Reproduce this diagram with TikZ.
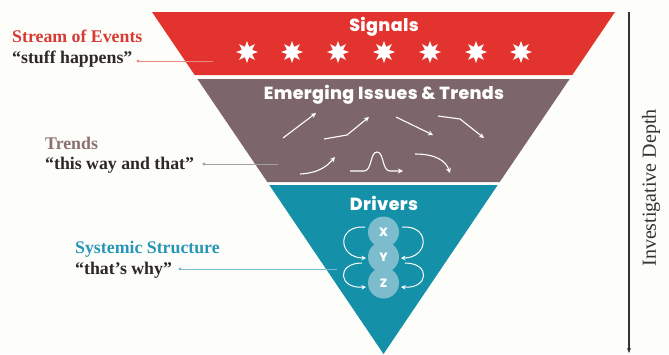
\documentclass[tikz,border=0pt]{standalone}
\usepackage{fontspec}
\setmainfont{Liberation Serif}
\newfontfamily\titlefont{Poppins}[BoldFont={Poppins ExtraBold},LetterSpace=2]
\usetikzlibrary{shapes.geometric,arrows.meta}
\definecolor{bg}{HTML}{FDFDF9}
\definecolor{bandred}{HTML}{E2332F}
\definecolor{bandgray}{HTML}{7D6669}
\definecolor{bandteal}{HTML}{1590A9}
\definecolor{circfill}{HTML}{7DBCCD}
\definecolor{lblred}{HTML}{D83A34}
\definecolor{lblgray}{HTML}{8C7073}
\definecolor{lblteal}{HTML}{2896B9}
\definecolor{quote}{HTML}{2D2828}
\definecolor{linered}{HTML}{E88C82}
\definecolor{linegray}{HTML}{A0A0A0}
\definecolor{lineteal}{HTML}{78BED2}
\definecolor{axis}{HTML}{333333}
\tikzset{
  bandtitle/.style={text=white,font=\titlefont\bfseries\fontsize{17.5}{19}\selectfont,inner sep=0},
  sparkle/.style={star,star points=8,star point ratio=2,fill=white,minimum size=22pt,inner sep=0},
  trendarrow/.style={white,line width=1.1pt,-{Stealth[length=5pt,width=5pt]}},
  loopar/.style={white,line width=1pt,-{Stealth[length=4.5pt,width=4.5pt]}},
  xyz/.style={circle,fill=circfill,minimum size=31pt,inner sep=0,text=white,font=\titlefont\bfseries\fontsize{12}{13}\selectfont},
  lblhead/.style={anchor=base west,inner sep=0,font=\bfseries\fontsize{17.8}{20}\selectfont},
  lblquote/.style={anchor=base west,inner sep=0,text=quote,font=\bfseries\fontsize{17.8}{20}\selectfont},
  leader/.style={line width=0.9pt},
}
\begin{document}
\begin{tikzpicture}[x=1pt,y=-1pt]
\useasboundingbox (0,0) rectangle (669,354);
\fill[bg] (0,0) rectangle (669,354);
% bands
\fill[bandred] (152,12) -- (615,12) -- (572.3,75) -- (194.7,75) -- cycle;
\fill[bandgray] (197.4,79) -- (569.6,79) -- (499.7,182) -- (267.3,182) -- cycle;
\fill[bandteal] (269.3,185) -- (497.7,185) -- (383.5,354) -- cycle;
% titles
\node[bandtitle] (tsig) at (384,27) {Signals};
\node[bandtitle] (temg) at (384,95) {Emerging Issues \& Trends};
\node[bandtitle] (tdrv) at (384,203) {Drivers};
% stars
\foreach \i/\x in {1/247,2/292,3/338,4/384,5/430,6/476,7/521}
  \node[sparkle] (s\i) at (\x,52) {};
% trend arrows
\coordinate (a1s) at (283,138); \coordinate (a1e) at (316,113);
\draw[trendarrow] (a1s) -- (a1e);
\coordinate (a2s) at (324,139); \coordinate (a2m) at (347,135); \coordinate (a2e) at (369,117);
\draw[trendarrow] (a2s) -- (a2m) -- (a2e);
\coordinate (a3s) at (396,117); \coordinate (a3e) at (433,135);
\draw[trendarrow] (a3s) -- (a3e);
\coordinate (a4s) at (438,116); \coordinate (a4m) at (460,119); \coordinate (a4e) at (484,138);
\draw[trendarrow] (a4s) -- (a4m) -- (a4e);
\coordinate (a5s) at (300,174); \coordinate (a5e) at (335,157);
\draw[trendarrow] (a5s) .. controls (320,173) and (328,165) .. (a5e);
\coordinate (a6s) at (350,171); \coordinate (a6e) at (403,171);
\draw[trendarrow] (a6s) -- (364,171) .. controls (372,171) and (370,152) .. (377,152) .. controls (384,152) and (382,171) .. (390,171) -- (a6e);
\coordinate (a7s) at (415,154); \coordinate (a7e) at (450,173);
\draw[trendarrow] (a7s) .. controls (436,154) and (446,161) .. (a7e);
% drivers circles
\node[xyz] (cz) at (383.5,283) {Z};
\node[xyz] (cy) at (383.5,257) {Y};
\node[xyz] (cx) at (383.5,232) {X};
\draw[loopar] (365,227) .. controls (336,225) and (338,258) .. (366,258);
\draw[loopar] (362,263) .. controls (336,263) and (338,289) .. (366,287);
\draw[loopar] (402,227) .. controls (431,225) and (429,258) .. (401,258);
\draw[loopar] (405,263) .. controls (431,263) and (429,289) .. (401,287);
% left labels
\node[lblhead,text=lblred] (h1) at (12,42) {Stream of Events};
\node[lblquote] (q1) at (12,63) {“stuff happens”};
\node[lblhead,text=lblgray] (h2) at (45,149) {Trends};
\node[lblquote] (q2) at (45,169) {“this way and that”};
\node[lblhead,text=lblteal] (h3) at (75,253) {Systemic Structure};
\node[lblquote] (q3) at (75,274) {“that’s why”};
% leaders
\coordinate (d1) at (138,61); \coordinate (e1) at (213,61);
\draw[leader,linered] (d1) -- (e1); \fill[linered] (d1) circle (1.6);
\coordinate (d2) at (204,164); \coordinate (e2) at (278,164);
\draw[leader,linegray] (d2) -- (e2); \fill[linegray] (d2) circle (1.6);
\coordinate (d3) at (180,269); \coordinate (e3) at (337,269);
\draw[leader,lineteal] (d3) -- (e3); \fill[lineteal] (d3) circle (1.6);
% axis
\coordinate (ax1) at (629,12); \coordinate (ax2) at (629,353);
\draw[axis,line width=1.1pt,-{Stealth[length=5pt,width=4pt]}] (ax1) -- (ax2);
\node[rotate=90,text=axis,font=\fontsize{20}{22}\selectfont,inner sep=0] (depth) at (651,188) {Investigative Depth};
\end{tikzpicture}
\end{document}
